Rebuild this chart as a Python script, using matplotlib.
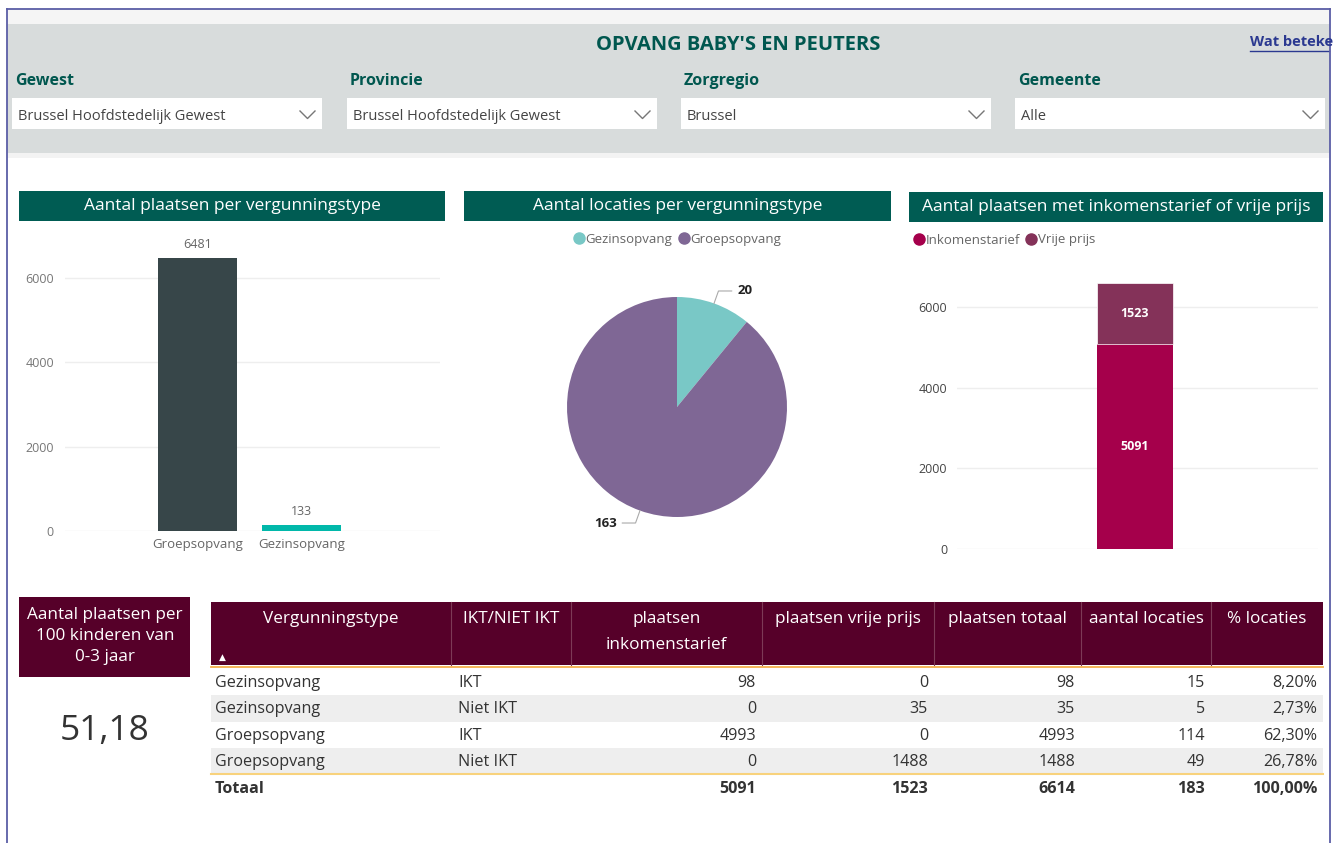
import matplotlib
matplotlib.use('Agg')
import matplotlib.pyplot as plt
from matplotlib.patches import Rectangle
from matplotlib.lines import Line2D
import numpy as np

plt.rcParams['font.family'] = ['Open Sans', 'DejaVu Sans']

# ---- data ----
slicer_labels = ['Gewest', 'Provincie', 'Zorgregio', 'Gemeente']
slicer_values = ['Brussel Hoofdstedelijk Gewest', 'Brussel Hoofdstedelijk Gewest', 'Brussel', 'Alle']

bar_types = ['Groepsopvang', 'Gezinsopvang']
bar_plaatsen = [6481, 133]

pie_types = ['Gezinsopvang', 'Groepsopvang']
pie_locaties = [20, 163]

stack_labels = ['Inkomenstarief', 'Vrije prijs']
stack_values = [5091, 1523]

kpi_label = 'Aantal plaatsen per\n100 kinderen van\n0-3 jaar'
kpi_value = '51,18'

tbl_headers = ['Vergunningstype', 'IKT/NIET IKT', 'plaatsen\ninkomenstarief', 'plaatsen vrije prijs',
               'plaatsen totaal', 'aantal locaties', '% locaties']
tbl_type = ['Gezinsopvang', 'Gezinsopvang', 'Groepsopvang', 'Groepsopvang']
tbl_ikt = ['IKT', 'Niet IKT', 'IKT', 'Niet IKT']
tbl_inkomen = [98, 0, 4993, 0]
tbl_vrij = [0, 35, 0, 1488]
tbl_totaal = [98, 35, 4993, 1488]
tbl_locaties = [15, 5, 114, 49]
tbl_pct = [8.20, 2.73, 62.30, 26.78]
tbl_pct_total = 100.00

# ---- colours ----
TEAL = '#005c53'
MAROON = '#560029'
TXT = '#333333'

W, H = 1334, 843


def box(x0, y0, x1, y1):
    return [x0 / W, 1 - y1 / H, (x1 - x0) / W, (y1 - y0) / H]


def pct(v):
    return f'{v:.2f}%'.replace('.', ',')


fig = plt.figure(figsize=(W / 100, H / 100), dpi=100)
bg = fig.add_axes([0, 0, 1, 1])
bg.set_xlim(0, W)
bg.set_ylim(H, 0)
bg.axis('off')


def rect(x0, y0, x1, y1, color):
    bg.add_patch(Rectangle((x0, y0), x1 - x0, y1 - y0, facecolor=color, edgecolor='none'))


# header band
rect(7, 9, 1330, 24, '#f5f5f5')
rect(7, 24, 1330, 153, '#d8dcdc')
rect(7, 153, 1330, 158, '#f3f3f3')
bg.text(738, 45, "OPVANG BABY'S EN PEUTERS", ha='center', va='center', fontsize=14.5,
        fontweight='bold', color='#00574f')
clip = Rectangle((0, 0), 1329, H, transform=bg.transData)
t = bg.text(1250, 42, 'Wat beteke', ha='left', va='center', fontsize=10.5, fontweight='bold',
            color='#2b3990')
t.set_clip_path(clip)
bg.plot([1250, 1329], [51, 51], color='#2b3990', lw=1)

for i, x in enumerate([12, 347, 681, 1015]):
    bg.text(x + 3, 81, slicer_labels[i], ha='left', va='center', fontsize=11.5,
            fontweight='bold', color='#00574f')
    rect(x, 98, x + 310, 129, 'white')
    bg.text(x + 6, 116, slicer_values[i], ha='left', va='center', fontsize=10.5, color='#444444')
    bg.plot([x + 288, x + 295.5, x + 303], [111, 118.5, 111], color='#777777', lw=1)

# frame
bg.plot([7, 7], [9, H], color='#5b5ea6', lw=1.3)
bg.plot([7, 1330], [9, 9], color='#5b5ea6', lw=1.3)
bg.plot([1330, 1330], [9, H], color='#5b5ea6', lw=1.3)

# chart titles
titles = ['Aantal plaatsen per vergunningstype', 'Aantal locaties per vergunningstype',
          'Aantal plaatsen met inkomenstarief of vrije prijs']
for (x0, y0, x1, y1), ttl in zip([(19, 191, 445, 221), (464, 191, 891, 221), (909, 192, 1323, 222)], titles):
    rect(x0, y0, x1, y1, TEAL)
    bg.text((x0 + x1) / 2, (y0 + y1) / 2, ttl, ha='center', va='center', fontsize=12.5, color='white')

# ---- bar chart ----
ax1 = fig.add_axes(box(65, 236, 440, 531))
ax1.patch.set_alpha(0)
bars = ax1.bar(range(len(bar_types)), bar_plaatsen, width=0.76, color=['#374649', '#01b8aa'])
ax1.bar_label(bars, padding=5, fontsize=9, color='#666666')
ax1.set_xlim(-1.28, 2.33)
ax1.set_ylim(0, 7000)
ax1.set_yticks([0, 2000, 4000, 6000])
ax1.set_xticks(range(len(bar_types)))
ax1.set_xticklabels(bar_types)
ax1.grid(axis='y', color='#eeeeee', lw=1)
ax1.set_axisbelow(True)
for s in ax1.spines.values():
    s.set_visible(False)
ax1.tick_params(axis='y', length=0, pad=8, labelsize=9, labelcolor='#777777')
ax1.tick_params(axis='x', length=0, pad=5, labelsize=9.5, labelcolor='#666666')

# ---- pie ----
R = 110
ax2 = fig.add_axes(box(677 - 160, 407 - 160, 677 + 160, 407 + 160))
ax2.patch.set_alpha(0)
wedges, _ = ax2.pie(pie_locaties, colors=['#79c8c6', '#7f6795'], startangle=90, counterclock=False,
                    radius=1, wedgeprops=dict(linewidth=0))
ax2.set_xlim(-160 / R, 160 / R)
ax2.set_ylim(-160 / R, 160 / R)
ax2.set_aspect('equal')
for w, v in zip(wedges, pie_locaties):
    a = np.deg2rad((w.theta1 + w.theta2) / 2)
    c, s = np.cos(a), np.sin(a)
    sg = 1 if c >= 0 else -1
    p0 = (c * 1.0, s * 1.0)
    p1 = (c * 1.12, s * 1.12)
    p2 = (p1[0] + sg * 0.12, p1[1])
    ax2.plot([p0[0], p1[0], p2[0]], [p0[1], p1[1], p2[1]], color='#aaaaaa', lw=0.8)
    ax2.text(p2[0] + sg * 0.05, p2[1], str(v), ha='left' if sg > 0 else 'right', va='center',
             fontsize=9.5, fontweight='bold', color='#222222')

h_pie = [Line2D([], [], marker='o', ls='', markersize=8, color=c) for c in ['#79c8c6', '#7f6795']]
fig.legend(h_pie, pie_types, loc='center', bbox_to_anchor=(677 / W, 1 - 239 / H), ncol=2,
           frameon=False, handletextpad=0.05, columnspacing=0.4, handlelength=0.9, fontsize=9.5,
           labelcolor='#666666', borderpad=0, borderaxespad=0)

# ---- stacked bar ----
ax3 = fig.add_axes(box(957, 267, 1318, 549))
ax3.patch.set_alpha(0)
b1 = ax3.bar([0], [stack_values[0]], width=0.42, color='#a5004b')
b2 = ax3.bar([0], [stack_values[1]], width=0.42, bottom=[stack_values[0]], color='#843259',
             edgecolor='white', linewidth=0.5)
ax3.bar_label(b1, label_type='center', color='white', fontweight='bold', fontsize=9)
ax3.bar_label(b2, label_type='center', color='white', fontweight='bold', fontsize=9)
ax3.set_xlim(-0.986, 1.014)
ax3.set_ylim(0, 7000)
ax3.set_yticks([0, 2000, 4000, 6000])
ax3.set_xticks([])
ax3.grid(axis='y', color='#eeeeee', lw=1)
ax3.set_axisbelow(True)
for s in ax3.spines.values():
    s.set_visible(False)
ax3.tick_params(axis='y', length=0, pad=7, labelsize=9, labelcolor='#444444')

h_st = [Line2D([], [], marker='o', ls='', markersize=8, color=c) for c in ['#a5004b', '#843259']]
fig.legend(h_st, stack_labels, loc='center left', bbox_to_anchor=(913 / W, 1 - 240 / H), ncol=2,
           frameon=False, handletextpad=0.05, columnspacing=0.4, handlelength=0.9, fontsize=9.5,
           labelcolor='#666666', borderpad=0, borderaxespad=0)

# ---- KPI card ----
rect(19, 597, 190, 677, MAROON)
bg.text(105, 636, kpi_label, ha='center', va='center', fontsize=12.3, color='white', linespacing=1.45)
bg.text(105, 731, kpi_value, ha='center', va='center', fontsize=25.5, color=TXT)

# ---- table ----
edges = [211, 451, 571, 762, 934, 1081, 1211, 1323]
rect(211, 602, 1323, 665, MAROON)
for x in edges[1:-1]:
    bg.plot([x, x], [602, 665], color='#7d3a56', lw=0.8)
for i, hd in enumerate(tbl_headers):
    bg.text((edges[i] + edges[i + 1]) / 2, 611, hd, ha='center', va='top', fontsize=12.3,
            color='white', linespacing=1.85)
bg.text(222, 657, '\u25b2', ha='center', va='center', fontsize=6.5, color='white')

row_h = 26.3
top = 669
for r in range(len(tbl_type)):
    y0 = top + r * row_h
    if r % 2 == 1:
        rect(211, y0, 1323, y0 + row_h, '#eeeeee')
    yc = y0 + row_h / 2 + 1
    bg.text(215, yc, tbl_type[r], ha='left', va='center', fontsize=11.6, color=TXT)
    bg.text(458, yc, tbl_ikt[r], ha='left', va='center', fontsize=11.6, color=TXT)
    vals = [str(tbl_inkomen[r]), str(tbl_vrij[r]), str(tbl_totaal[r]), str(tbl_locaties[r]),
            pct(tbl_pct[r])]
    for j, v in enumerate(vals):
        bg.text(edges[j + 3] - 6, yc, v, ha='right', va='center', fontsize=11.6, color=TXT)

bg.plot([211, 1323], [666.5, 666.5], color='#f3b04a', lw=1.3)
ybot = top + len(tbl_type) * row_h
bg.plot([211, 1323], [ybot, ybot], color='#f8d27c', lw=1.5)

yt = ybot + 15
bg.text(215, yt, 'Totaal', ha='left', va='center', fontsize=11.6, color=TXT, fontweight='bold')
tot_vals = [str(sum(tbl_inkomen)), str(sum(tbl_vrij)), str(sum(tbl_totaal)), str(sum(tbl_locaties)),
            pct(tbl_pct_total)]
for j, v in enumerate(tot_vals):
    bg.text(edges[j + 3] - 6, yt, v, ha='right', va='center', fontsize=11.6, color=TXT, fontweight='bold')

fig.savefig('out.png', dpi=100)
